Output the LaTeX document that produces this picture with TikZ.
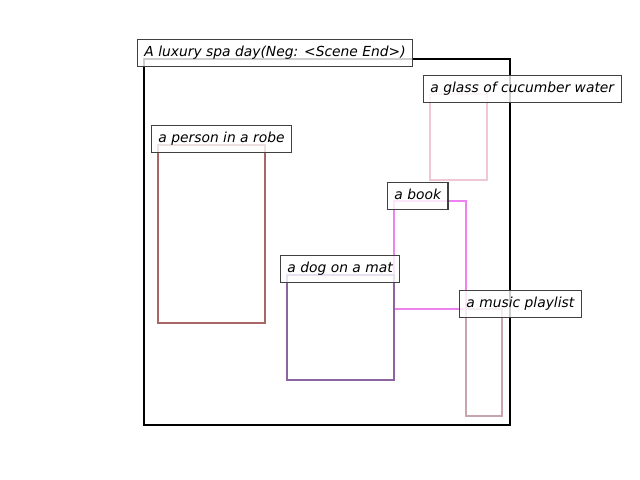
\documentclass[tikz,border=0pt]{standalone}
\usepackage{fontspec}
\setmainfont{DejaVu Sans}
\usepackage{tikz}
\usepackage{xcolor}

\definecolor{robe}{RGB}{170,102,102}
\definecolor{glass}{RGB}{240,200,212}
\definecolor{book}{RGB}{238,130,238}
\definecolor{dog}{RGB}{140,100,160}
\definecolor{music}{RGB}{200,164,172}

\begin{document}
\begin{tikzpicture}[
    x=0.01in,y=-0.01in,font=\fontsize{10pt}{12pt}\selectfont\itshape,
    region/.style={line width=1.5pt},
    tag/.style={anchor=south west,draw=black!75,line width=0.75pt,fill=white,
        fill opacity=0.8,text opacity=1,inner xsep=5pt,inner ysep=0pt,
        minimum height=19.4pt,text height=8pt,text depth=2.4pt}
]
\useasboundingbox (0,0) rectangle (640,480);
% Scene frame.
\draw[region,black] (144,59) rectangle (510,425);
% Object regions.
\draw[region,robe] (158,145) rectangle (265,323);
\draw[region,glass] (430,94) rectangle (487,180);
\draw[region,book] (394,201) rectangle (466,309);
\draw[region,dog] (287,275) rectangle (394,380);
\draw[region,music] (466,309) rectangle (502,416);
% Labels.
\node[tag] (scene) at (137,67) {A luxury spa day(Neg: <Scene End>)};
\node[tag] (person) at (151,153) {a person in a robe};
\node[tag] (water) at (423,103) {a glass of cucumber water};
\node[tag] (bk) at (387,210) {a book};
\node[tag] (dogmat) at (280,283) {a dog on a mat};
\node[tag] (playlist) at (459,318) {a music playlist};
\end{tikzpicture}
\end{document}
